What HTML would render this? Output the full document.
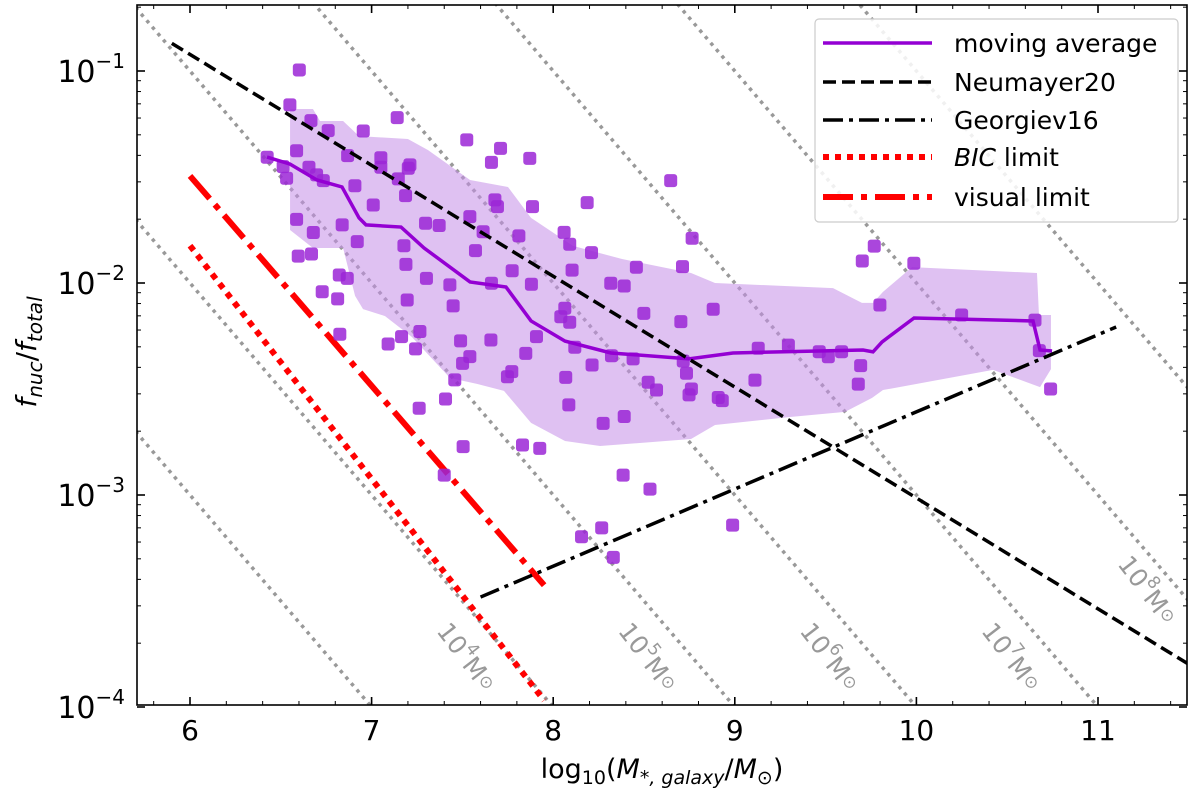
<!DOCTYPE html>
<html><head><meta charset="utf-8"><style>
html,body{margin:0;padding:0;background:#fff;overflow:hidden;width:1200px;height:800px;font-family:"DejaVu Sans","Liberation Sans",sans-serif}
svg{display:block}
</style></head><body>
<svg id="c" width="1200" height="800" viewBox="0 0 1200 800" xmlns="http://www.w3.org/2000/svg">
<defs><clipPath id="clip"><rect x="137" y="5" width="1050" height="700"/></clipPath></defs>
<g id="plot" clip-path="url(#clip)"></g>
<rect x="137" y="5" width="1050" height="700" fill="none" stroke="#000" stroke-width="1.6"/>
<g id="axes"></g>
<g id="legend">
<rect x="815" y="19" width="363" height="203" rx="4" fill="#fff" fill-opacity="0.85" stroke="#ccc" stroke-width="1.2"/>
<line x1="823" y1="43" x2="932" y2="43" stroke="#9400d3" stroke-width="3.5"/>
<text x="954" y="52" font-size="25">moving average</text>
<line x1="823" y1="82" x2="932" y2="82" stroke="#000" stroke-width="3.5" stroke-dasharray="13,6"/>
<text x="954" y="91" font-size="25">Neumayer20</text>
<line x1="823" y1="120" x2="932" y2="120" stroke="#000" stroke-width="3.5" stroke-dasharray="20,6,4,6"/>
<text x="954" y="129" font-size="25">Georgiev16</text>
<line x1="823" y1="157" x2="932" y2="157" stroke="#f00" stroke-width="6" stroke-dasharray="6,6"/>
<text x="954" y="166" font-size="25"><tspan font-style="italic">BIC</tspan> limit</text>
<line x1="823" y1="197" x2="932" y2="197" stroke="#f00" stroke-width="6" stroke-dasharray="30,8,6,8"/>
<text x="954" y="206" font-size="25">visual limit</text>
</g>
</svg>
<script>
const NS="http://www.w3.org/2000/svg";
const xTicks=[6,7,8,9,10,11];
const yTickExps=[-1,-2,-3,-4];
const massLines=[3,4,5,6,7,8,9];
const massLabels=[4,5,6,7,8];
// galaxy log-mass of each nucleated galaxy
const ptsX=[6.602,6.550,6.666,6.761,6.954,7.141,7.524,7.710,7.660,7.871,8.647,8.765,8.712,6.425,6.513,6.532,6.587,6.868,7.051,7.051,7.211,7.202,6.655,6.697,6.734,6.908,7.147,7.187,7.009,6.587,6.679,6.838,6.921,7.297,7.372,7.178,7.189,6.596,6.669,6.822,6.866,6.728,6.813,7.302,7.431,7.449,7.196,6.825,7.091,7.165,7.242,7.266,7.407,7.262,7.504,7.490,7.657,7.541,7.501,7.458,7.772,7.748,7.849,7.908,7.679,7.693,7.541,7.614,7.811,7.572,7.774,7.880,7.660,7.886,8.187,8.060,8.091,8.211,8.104,8.458,8.317,8.391,8.064,8.042,8.091,8.119,8.214,8.069,8.499,8.321,8.440,8.523,8.569,8.703,8.716,8.734,8.761,8.748,8.086,8.275,8.391,7.831,7.926,8.385,7.400,8.881,9.129,9.295,9.111,8.909,8.931,9.465,9.515,9.588,9.693,9.680,9.768,9.702,9.986,9.799,10.249,10.653,10.677,10.739,8.533,8.156,8.267,8.331,8.988];
// log10 of f_nuc/f_total
const ptsLogF=[-0.995,-1.160,-1.234,-1.281,-1.283,-1.220,-1.325,-1.365,-1.431,-1.412,-1.517,-1.789,-1.923,-1.407,-1.451,-1.506,-1.376,-1.399,-1.409,-1.454,-1.443,-1.459,-1.454,-1.490,-1.517,-1.541,-1.509,-1.588,-1.632,-1.700,-1.762,-1.726,-1.805,-1.718,-1.729,-1.824,-1.912,-1.873,-1.863,-1.962,-1.978,-2.041,-2.075,-1.978,-2.009,-2.108,-2.080,-2.242,-2.288,-2.253,-2.311,-2.229,-2.547,-2.591,-2.772,-2.273,-2.269,-2.347,-2.379,-2.457,-2.418,-2.442,-2.332,-2.253,-1.608,-1.640,-1.687,-1.758,-1.778,-1.847,-1.942,-2.006,-2.001,-1.640,-1.621,-1.761,-1.817,-1.857,-1.939,-1.926,-2.001,-2.014,-2.119,-2.159,-2.185,-2.303,-2.387,-2.445,-2.143,-2.343,-2.358,-2.468,-2.505,-2.182,-2.368,-2.426,-2.500,-2.528,-2.575,-2.662,-2.630,-2.764,-2.780,-2.906,-2.906,-2.124,-2.308,-2.293,-2.458,-2.540,-2.555,-2.324,-2.348,-2.324,-2.390,-2.477,-1.826,-1.896,-1.907,-2.104,-2.151,-2.175,-2.319,-2.500,-2.972,-3.197,-3.155,-3.294,-3.142];
const avgX=[6.424,6.551,6.699,6.837,6.931,6.969,7.162,7.289,7.542,7.740,7.878,8.065,8.318,8.748,8.990,9.706,9.761,9.811,9.987,10.642,10.681,10.747];
const avgLogF=[-1.406,-1.439,-1.514,-1.547,-1.693,-1.726,-1.736,-1.835,-1.995,-2.019,-2.179,-2.274,-2.330,-2.358,-2.330,-2.316,-2.325,-2.278,-2.165,-2.179,-2.316,-2.321];
const bandUpX=[6.551,6.677,6.716,6.843,6.931,7.200,7.311,7.542,7.751,7.878,8.109,8.379,8.759,8.891,9.541,9.700,9.761,9.816,9.976,10.664,10.675,10.741];
const bandUpLogF=[-1.179,-1.179,-1.236,-1.236,-1.307,-1.321,-1.373,-1.514,-1.547,-1.693,-1.825,-1.887,-1.953,-2.000,-2.024,-2.094,-2.094,-2.042,-1.925,-1.953,-2.151,-2.151];
const bandLoX=[10.741,10.681,10.422,9.816,9.756,9.607,9.304,8.891,8.759,8.258,8.065,7.878,7.729,7.580,7.432,7.222,7.074,6.953,6.909,6.843,6.677,6.551];
const bandLoLogF=[-2.406,-2.491,-2.410,-2.505,-2.542,-2.608,-2.632,-2.670,-2.736,-2.769,-2.745,-2.660,-2.509,-2.476,-2.448,-2.255,-2.156,-2.123,-2.061,-1.835,-1.835,-1.750];

const X=v=>190+(v-6)*181.6;
const YL=l=>71+(-1-l)*212;
const Y=f=>YL(Math.log10(f));
const plot=document.getElementById('plot'), axes=document.getElementById('axes');
function mk(tag,attrs,parent){const e=document.createElementNS(NS,tag);for(const k in attrs)e.setAttribute(k,attrs[k]);parent.appendChild(e);return e;}
function lineF(x0,x1,fn,attrs){return mk('line',Object.assign({x1:X(x0),y1:Y(fn(x0)),x2:X(x1),y2:Y(fn(x1))},attrs),plot);}

massLines.forEach(m=>{
  const l=lineF(5,12,x=>Math.pow(10,m-x),{stroke:'#999','stroke-width':3.5,'stroke-dasharray':'3.5,5'});
  
  
});
let d='M'+bandUpX.map((x,i)=>X(x)+','+YL(bandUpLogF[i])).join('L')+'L'+bandLoX.map((x,i)=>X(x)+','+YL(bandLoLogF[i])).join('L')+'Z';
const band=mk('path',{d:d,fill:'#c58ee8','fill-opacity':0.55},plot);


const vis=lineF(6,7.95,x=>0.032*Math.pow(10,-(x-6)*0.99),{stroke:'#f00','stroke-width':6,'stroke-dasharray':'30,8,6,8'});


const bic=lineF(6,7.95,x=>0.015*Math.pow(10,-(x-6)*1.1),{stroke:'#f00','stroke-width':6,'stroke-dasharray':'6,6'});


ptsX.forEach((x,i)=>{
  const r=mk('rect',{x:X(x)-6.5,y:YL(ptsLogF[i])-6.5,width:13,height:13,rx:3,fill:'#9b26d6','fill-opacity':0.85},plot);
  
  
});
const ma=mk('polyline',{points:avgX.map((x,i)=>X(x)+','+YL(avgLogF[i])).join(' '),fill:'none',stroke:'#9400d3','stroke-width':3.5},plot);


const neu=lineF(5.9,11.5,x=>0.135*Math.pow(10,-(x-5.9)*0.523),{stroke:'#000','stroke-width':3.5,'stroke-dasharray':'13,6'});


const geo=lineF(7.6,11.1,x=>3.3e-4*Math.pow(10,(x-7.6)*0.364),{stroke:'#000','stroke-width':3.5,'stroke-dasharray':'20,6,4,6'});


const ang=Math.atan2(212,181.6)*180/Math.PI+3;
massLabels.forEach(m=>{
  const py=(m==8?590:657);
  const lg=-1-(py-71)/212;
  const px=X(m-lg)-(m==8?32:44);
  const t=mk('text',{x:px,y:py,'font-size':25,fill:'#999','text-anchor':'middle','dominant-baseline':'central',transform:`rotate(${ang} ${px} ${py})`},plot);
  
  
  t.innerHTML=`10<tspan dy="-9" font-size="17">${m}</tspan><tspan dy="9">M</tspan><tspan font-size="17">⊙</tspan>`;
});
xTicks.forEach(v=>{
  mk('line',{x1:X(v),y1:705,x2:X(v),y2:697,stroke:'#000','stroke-width':1.6},axes);
  mk('line',{x1:X(v),y1:5,x2:X(v),y2:13,stroke:'#000','stroke-width':1.6},axes);
  const t=mk('text',{x:X(v),y:740,'font-size':28,'text-anchor':'middle'},axes);
  
  
  t.textContent=v;
});
for(let v=5.8;v<11.5;v+=0.2){const px=X(v);if(px>137&&px<1187){mk('line',{x1:px,y1:705,x2:px,y2:701,stroke:'#000','stroke-width':1},axes);mk('line',{x1:px,y1:5,x2:px,y2:9,stroke:'#000','stroke-width':1},axes);}}
yTickExps.forEach(e=>{
  const py=Y(Math.pow(10,e));
  mk('line',{x1:137,y1:py,x2:145,y2:py,stroke:'#000','stroke-width':1.6},axes);
  mk('line',{x1:1187,y1:py,x2:1179,y2:py,stroke:'#000','stroke-width':1.6},axes);
  const t=mk('text',{x:125,y:py+11,'font-size':30,'text-anchor':'end'},axes);
  
  
  t.innerHTML=`10<tspan dy="-14" font-size="20">−${-e}</tspan>`;
  for(let k=2;k<10;k++){const q=Y(k*Math.pow(10,e));if(q>5){mk('line',{x1:137,y1:q,x2:141,y2:q,stroke:'#000','stroke-width':1},axes);mk('line',{x1:1187,y1:q,x2:1183,y2:q,stroke:'#000','stroke-width':1},axes);}}
});
const xl=mk('text',{x:662,y:778,'font-size':27,'text-anchor':'middle'},axes);


xl.innerHTML='log<tspan font-size="19" dy="6">10</tspan><tspan dy="-6">(</tspan><tspan font-style="italic">M</tspan><tspan font-size="19" dy="6" font-style="italic">*, galaxy</tspan><tspan dy="-6">/</tspan><tspan font-style="italic">M</tspan><tspan font-size="19" dy="6">⊙</tspan><tspan dy="-6">)</tspan>';
const yl=mk('text',{x:0,y:0,'font-size':28,'text-anchor':'middle',transform:'translate(36,352) rotate(-90)'},axes);


yl.innerHTML='<tspan font-style="italic">f</tspan><tspan font-size="20" dy="6" font-style="italic">nuc</tspan><tspan dy="-6">/</tspan><tspan font-style="italic">f</tspan><tspan font-size="20" dy="6" font-style="italic">total</tspan>';
</script>
</body></html>
